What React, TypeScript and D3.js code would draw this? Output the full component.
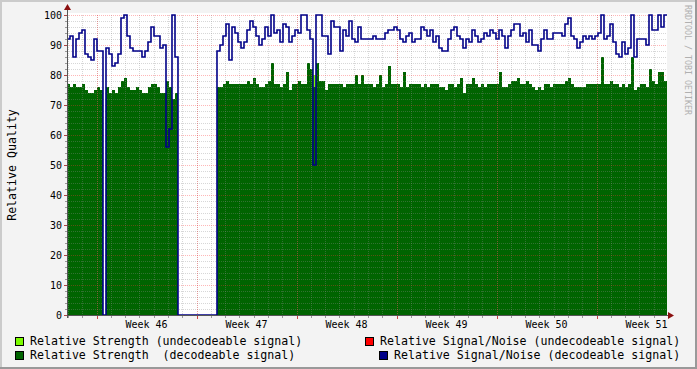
import React from "react";
import * as d3 from "d3";

// svg size
const width = 697;
const height = 369;

// plot box (pixels)
const plotLeft = 67;
const plotRight = 667;
const plotTop = 15;
const plotBottom = 315;

// time span of the graph: 6 weeks, sampled into equal steps
const startTime = new Date(2023, 10, 10, 22, 26);
const spanDays = 42;

// relative signal/noise (decodeable signal), one value per sample
const snrDecodeable = [
  92, 93, 86, 92, 94, 95, 87, 86, 85, 92, 88, 88, 0, 89, 87, 83, 84, 87, 99, 100,
  93, 89, 88, 88, 88, 86, 88, 91, 96, 93, 93, 89, 90, 56, 62, 100, 86, 0, 0, 0,
  0, 0, 0, 0, 0, 0, 0, 0, 0, 0, 88, 90, 93, 97, 85, 96, 94, 91, 89, 91,
  95, 98, 96, 93, 90, 92, 96, 93, 100, 94, 95, 91, 97, 96, 91, 93, 95, 94, 100, 100,
  95, 92, 50, 100, 100, 93, 93, 87, 98, 96, 96, 88, 95, 93, 98, 92, 91, 96, 92, 92,
  92, 92, 93, 92, 92, 92, 94, 95, 95, 96, 95, 92, 91, 93, 94, 91, 92, 92, 96, 95,
  93, 95, 91, 93, 89, 88, 88, 92, 95, 96, 93, 92, 89, 92, 91, 95, 93, 91, 92, 94,
  93, 95, 94, 92, 95, 93, 89, 93, 95, 97, 97, 93, 94, 91, 95, 90, 90, 88, 92, 95,
  92, 92, 94, 94, 94, 93, 97, 99, 93, 92, 89, 91, 93, 92, 93, 92, 93, 94, 100, 92,
  93, 97, 91, 87, 86, 91, 87, 89, 100, 86, 92, 92, 92, 90, 100, 95, 95, 100, 96, 100,
];

// relative strength (decodeable signal)
const strengthDecodeable = [
  77, 76, 77, 76, 76, 77, 75, 74, 74, 75, 76, 75, 0, 76, 74, 75, 74, 76, 78, 79,
  76, 75, 75, 76, 75, 74, 74, 76, 77, 77, 76, 74, 74, 78, 76, 72, 74, 0, 0, 0,
  0, 0, 0, 0, 0, 0, 0, 0, 0, 0, 76, 76, 77, 78, 77, 77, 77, 77, 77, 77,
  78, 77, 79, 77, 76, 76, 77, 78, 84, 77, 77, 76, 77, 81, 75, 77, 77, 78, 77, 77,
  84, 82, 76, 84, 78, 78, 75, 77, 77, 77, 77, 77, 76, 77, 77, 77, 80, 77, 80, 77,
  77, 77, 76, 77, 80, 76, 77, 83, 77, 77, 77, 76, 81, 76, 77, 77, 77, 77, 76, 77,
  76, 77, 77, 77, 76, 76, 75, 77, 77, 76, 77, 79, 74, 77, 77, 79, 77, 76, 77, 76,
  77, 77, 77, 77, 81, 76, 76, 77, 78, 78, 79, 77, 77, 78, 77, 76, 75, 76, 75, 77,
  77, 76, 77, 77, 77, 77, 78, 79, 77, 76, 76, 76, 76, 77, 77, 77, 77, 77, 86, 77,
  77, 78, 77, 77, 76, 77, 76, 77, 86, 75, 76, 77, 77, 76, 82, 78, 77, 81, 81, 78,
];

// relative strength (undecodeable signal): only non-zero samples, [sample, value]
const strengthUndecodeable = [[82, 80]];

const yTicks = [0, 10, 20, 30, 40, 50, 60, 70, 80, 90, 100];

const legendLeft = [
  { label: "Relative Strength (undecodeable signal)", color: "#7cfc00" },
  { label: "Relative Strength  (decodeable signal)", color: "#006400" },
];
const legendRight = [
  { label: "Relative Signal/Noise (undecodeable signal)", color: "#ff0000" },
  { label: "Relative Signal/Noise (decodeable signal)", color: "#000088" },
];

const font = "'DejaVu Sans Mono', monospace";

export default function App() {
  const endTime = d3.timeDay.offset(startTime, spanDays);
  const n = snrDecodeable.length;
  const stepMin = (spanDays * 24 * 60) / n;
  const timeAt = (i: number) => d3.timeMinute.offset(startTime, i * stepMin);

  const x = d3.scaleTime().domain([startTime, endTime]).range([plotLeft, plotRight]);
  const y = d3.scaleLinear().domain([0, 100]).range([plotBottom, plotTop]);

  // add a closing point so the last step reaches the right edge
  const toPoints = (vals: number[]) =>
    vals.map((v, i) => ({ t: timeAt(i), v })).concat([{ t: endTime, v: vals[vals.length - 1] }]);

  const undecodeVals = snrDecodeable.map(() => 0);
  strengthUndecodeable.forEach(([i, v]) => (undecodeVals[i] = v));

  const area = d3
    .area<{ t: Date; v: number }>()
    .x((d) => x(d.t))
    .y0(y(0))
    .y1((d) => y(d.v))
    .curve(d3.curveStepAfter);

  const line = d3
    .line<{ t: Date; v: number }>()
    .x((d) => x(d.t))
    .y((d) => y(d.v))
    .curve(d3.curveStepAfter);

  // grid
  const minorY = d3.range(0, 101, 2).filter((v) => v % 10 !== 0);
  const days = d3.timeDay.range(startTime, endTime);
  const weeks = d3.timeMonday.range(startTime, endTime);
  const weekLabels = d3.timeMonday
    .range(d3.timeMonday.offset(startTime, -1), endTime)
    .map((w) => ({ t: d3.timeHour.offset(w, 84), label: "Week " + d3.timeFormat("%V")(w) }))
    .filter((d) => x(d.t) > plotLeft && x(d.t) < plotRight);

  const gridGray = "#8c8c8c";
  const gridRed = "#ff3030";

  return (
    <svg
      width={width}
      height={height}
      style={{ position: "absolute", left: 0, top: 0, display: "block" }}
      fontFamily={font}
    >
      {/* canvas and 3d border */}
      <rect x={0} y={0} width={width} height={height} fill="#f3f3f3" />
      <path d={`M0,0H${width}V2H2V${height}H0Z`} fill="#cbcbcb" />
      <path d={`M${width},${height}H0V${height - 2}H${width - 2}V0H${width}Z`} fill="#999999" />

      {/* plot background */}
      <rect x={plotLeft} y={plotTop - 2} width={plotRight - plotLeft} height={plotBottom - plotTop + 2} fill="#ffffff" />

      {/* areas */}
      <path d={area(toPoints(undecodeVals)) ?? ""} fill="#7cfc00" shapeRendering="crispEdges" />
      <path d={area(toPoints(strengthDecodeable)) ?? ""} fill="#006400" shapeRendering="crispEdges" />

      {/* grid on top of areas */}
      <g shapeRendering="crispEdges" strokeDasharray="1,1" strokeWidth={1}>
        {minorY.map((v) => (
          <line key={"my" + v} x1={plotLeft} x2={plotRight} y1={y(v) + 0.5} y2={y(v) + 0.5} stroke={gridGray} strokeOpacity={0.35} />
        ))}
        {days.map((d) => (
          <line key={"mx" + +d} x1={Math.round(x(d)) + 0.5} x2={Math.round(x(d)) + 0.5} y1={plotTop} y2={plotBottom} stroke={gridGray} strokeOpacity={0.35} />
        ))}
        {yTicks.filter((v) => v > 0).map((v) => (
          <line key={"My" + v} x1={plotLeft} x2={plotRight} y1={y(v) + 0.5} y2={y(v) + 0.5} stroke={gridRed} strokeOpacity={0.35} />
        ))}
        {weeks.map((d) => (
          <line key={"Mx" + +d} x1={Math.round(x(d)) + 0.5} x2={Math.round(x(d)) + 0.5} y1={plotTop} y2={plotBottom} stroke={gridRed} strokeOpacity={0.35} />
        ))}
      </g>

      {/* signal/noise line */}
      <path d={line(toPoints(snrDecodeable)) ?? ""} fill="none" stroke="#000088" strokeWidth={1.6} />

      {/* axes */}
      <g shapeRendering="crispEdges">
        <line x1={plotLeft + 0.5} x2={plotLeft + 0.5} y1={plotBottom + 3} y2={plotTop - 6} stroke="#555555" />
        <line x1={plotLeft - 3} x2={plotRight + 2} y1={plotBottom + 0.5} y2={plotBottom + 0.5} stroke="#555555" />
        {minorY.map((v) => (
          <line key={"ty" + v} x1={plotLeft - 2} x2={plotLeft} y1={y(v) + 0.5} y2={y(v) + 0.5} stroke="#999999" />
        ))}
        {yTicks.map((v) => (
          <line key={"Ty" + v} x1={plotLeft - 3} x2={plotLeft} y1={y(v) + 0.5} y2={y(v) + 0.5} stroke="#aa4444" />
        ))}
        {days.map((d) => (
          <line key={"tx" + +d} x1={Math.round(x(d)) + 0.5} x2={Math.round(x(d)) + 0.5} y1={plotBottom + 1} y2={plotBottom + 3} stroke="#999999" />
        ))}
        {weeks.map((d) => (
          <line key={"Tx" + +d} x1={Math.round(x(d)) + 0.5} x2={Math.round(x(d)) + 0.5} y1={plotBottom + 1} y2={plotBottom + 4} stroke="#cc4444" />
        ))}
      </g>
      <path d={`M${plotLeft - 3},${plotTop - 5}L${plotLeft + 0.5},${plotTop - 11}L${plotLeft + 4},${plotTop - 5}Z`} fill="#8b1010" />
      <path d={`M${plotRight + 1},${plotBottom - 3}L${plotRight + 7},${plotBottom + 0.5}L${plotRight + 1},${plotBottom + 4}Z`} fill="#8b1010" />

      {/* tick labels */}
      <g fontSize={10} fill="#000000">
        {yTicks.map((v) => (
          <text key={"ly" + v} x={plotLeft - 5} y={y(v) + 4} textAnchor="end">
            {v}
          </text>
        ))}
        {weekLabels.map((d) => (
          <text key={d.label} x={x(d.t)} y={328} textAnchor="middle">
            {d.label}
          </text>
        ))}
      </g>

      {/* y title */}
      <text transform={`translate(16,${(plotTop + plotBottom) / 2}) rotate(-90)`} textAnchor="middle" fontSize={11.6}>
        Relative Quality
      </text>

      {/* watermark */}
      <text transform="translate(685,5) rotate(90)" fontSize={8.3} fill="#b0b0b0">
        RRDTOOL / TOBI OETIKER
      </text>

      {/* legend */}
      <g fontSize={11.6}>
        {legendLeft.map((d, i) => (
          <g key={d.label}>
            <rect x={15.5} y={337.5 + i * 14} width={8} height={8} fill={d.color} stroke="#000000" />
            <text x={30} y={345 + i * 14} xmlSpace="preserve" style={{ whiteSpace: "pre" }}>
              {d.label}
            </text>
          </g>
        ))}
        {legendRight.map((d, i) => (
          <g key={d.label}>
            <rect x={365.5 + i * 14} y={337.5 + i * 14} width={8} height={8} fill={d.color} stroke="#000000" />
            <text x={380 + i * 14} y={345 + i * 14} xmlSpace="preserve" style={{ whiteSpace: "pre" }}>
              {d.label}
            </text>
          </g>
        ))}
      </g>
    </svg>
  );
}
